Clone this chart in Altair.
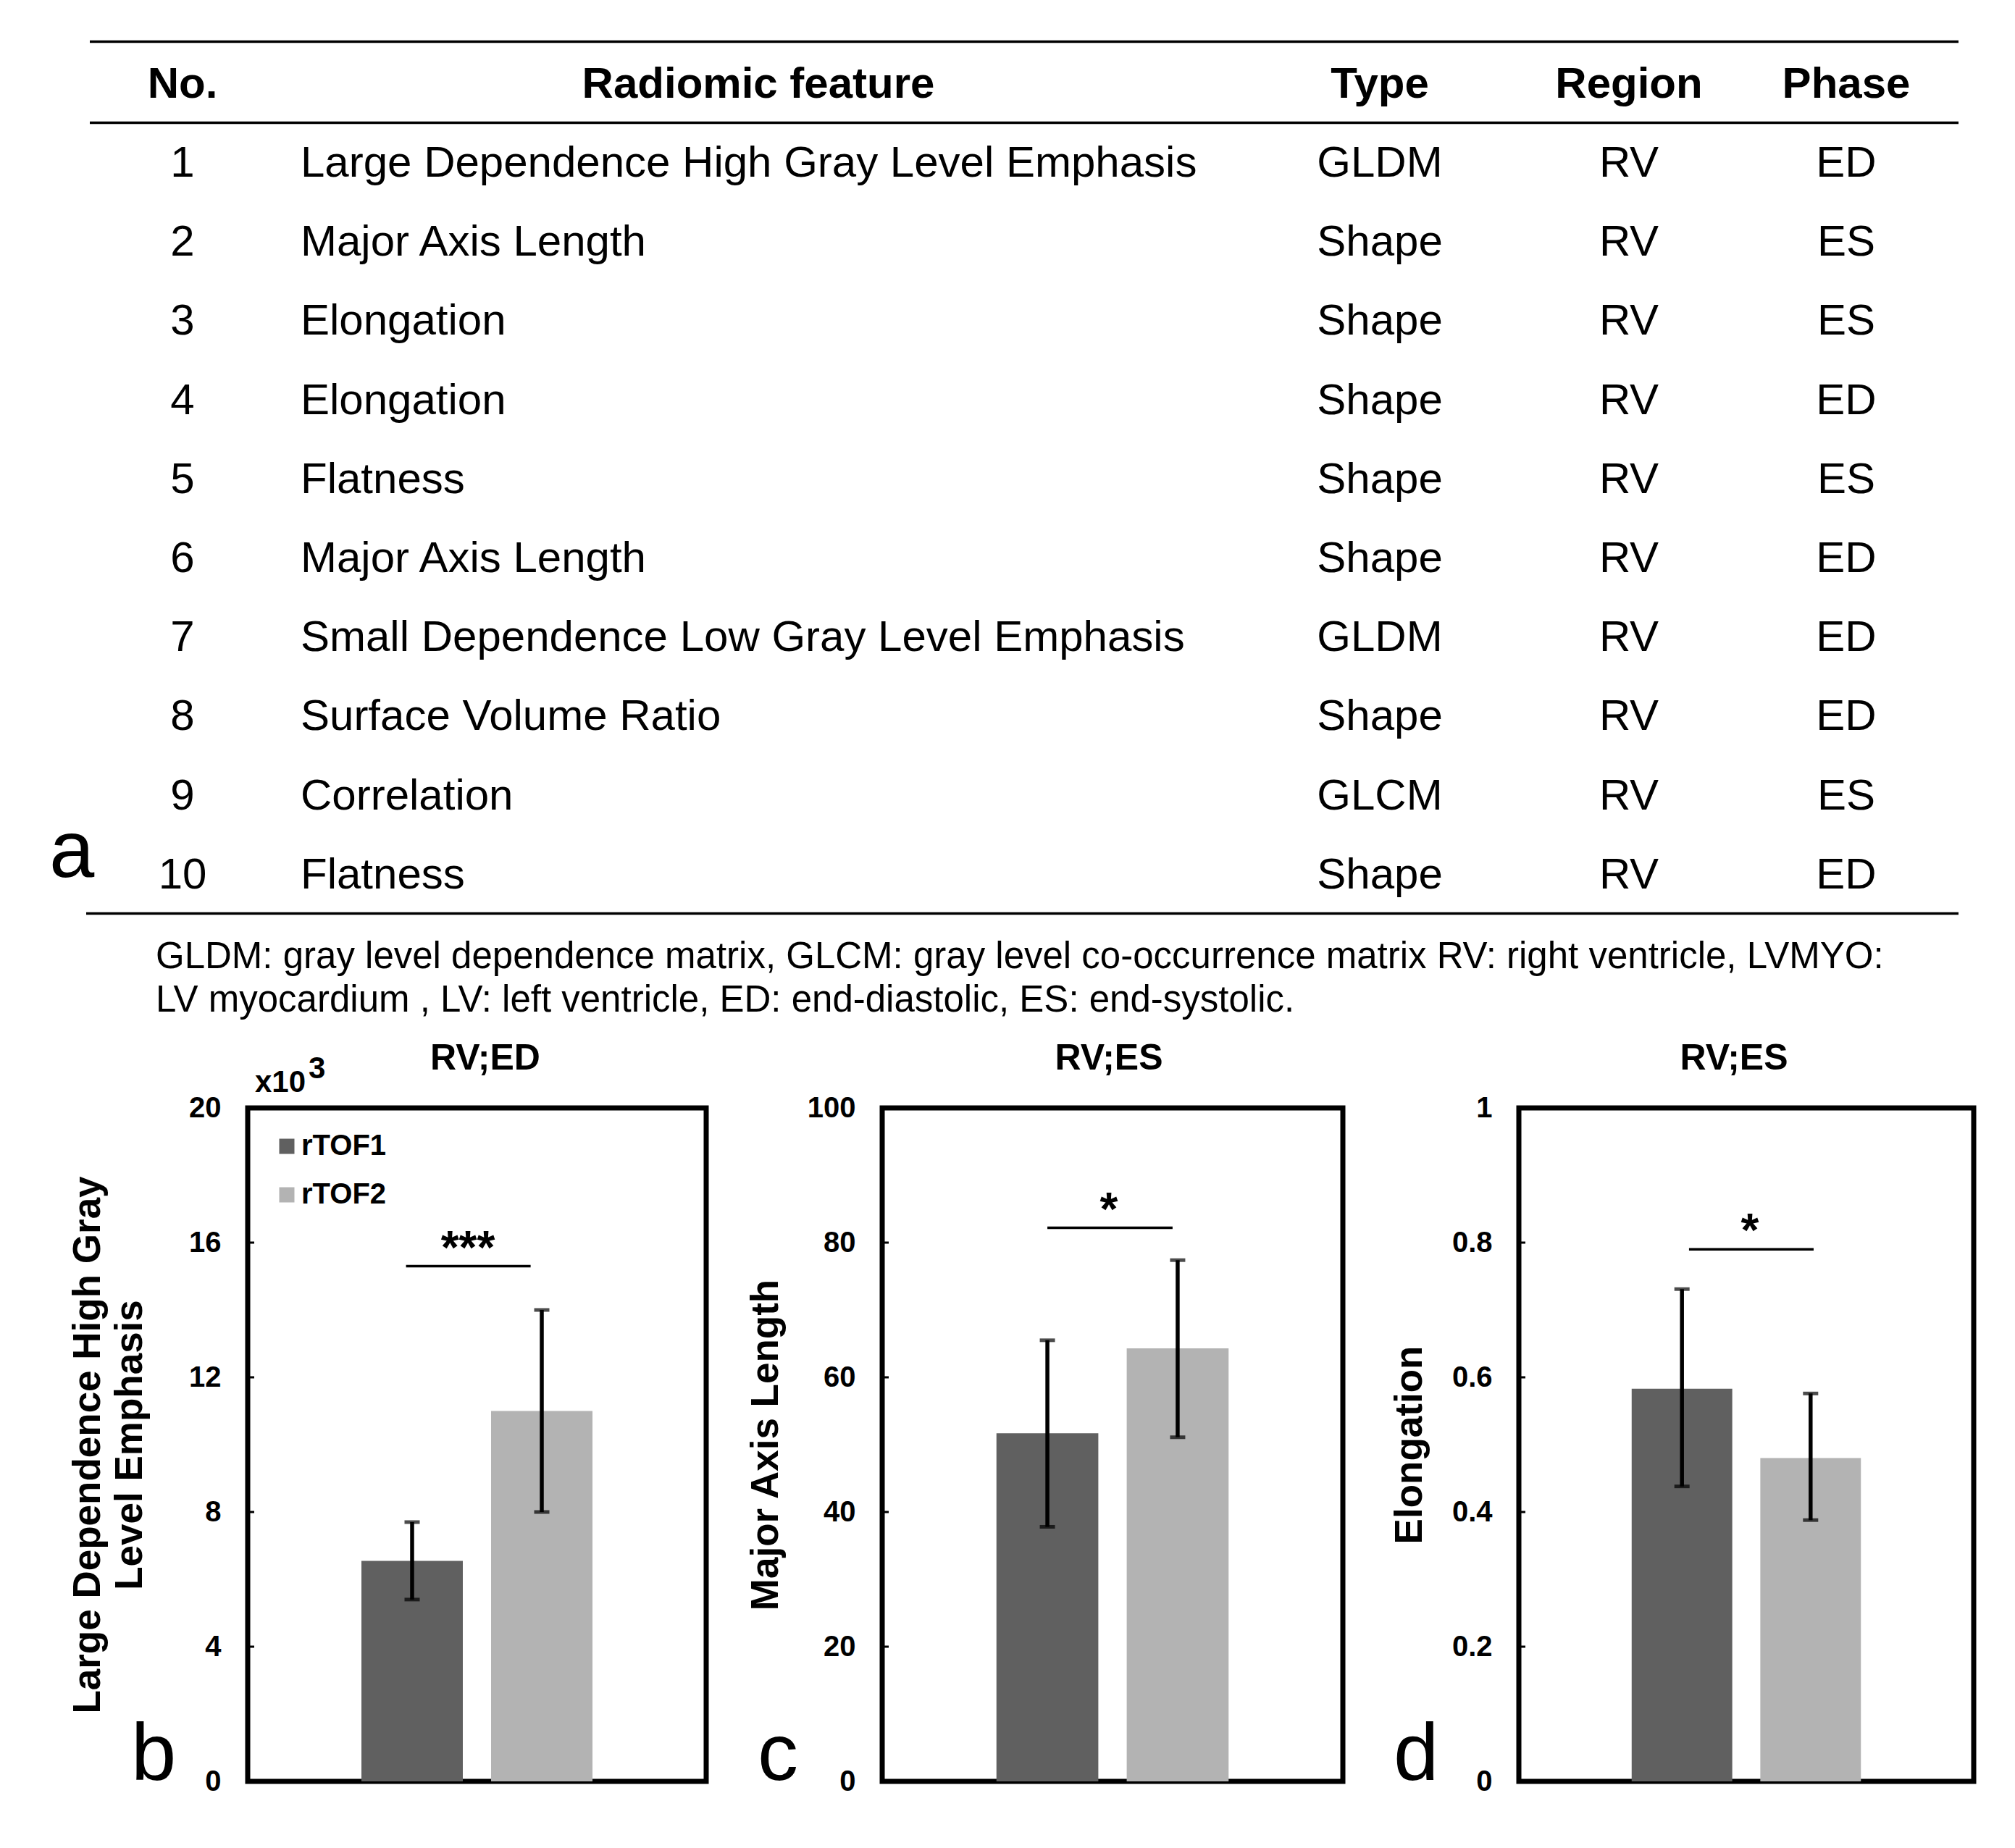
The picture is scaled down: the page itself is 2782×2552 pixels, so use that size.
import altair as alt
import pandas as pd

# ---------------- data ----------------
row_no = [1, 2, 3, 4, 5, 6, 7, 8, 9, 10]
features = [
    "Large Dependence High Gray Level Emphasis",
    "Major Axis Length",
    "Elongation",
    "Elongation",
    "Flatness",
    "Major Axis Length",
    "Small Dependence Low Gray Level Emphasis",
    "Surface Volume Ratio",
    "Correlation",
    "Flatness",
]
ftypes = ["GLDM", "Shape", "Shape", "Shape", "Shape", "Shape", "GLDM", "Shape", "GLCM", "Shape"]
regions = ["RV"] * 10
phases = ["ED", "ES", "ES", "ED", "ES", "ED", "ED", "ED", "ES", "ED"]
headers = ["No.", "Radiomic feature", "Type", "Region", "Phase"]
footnote = [
    "GLDM: gray level dependence matrix, GLCM: gray level co-occurrence matrix RV: right ventricle, LVMYO:",
    "LV myocardium , LV: left ventricle, ED: end-diastolic, ES: end-systolic.",
]

groups = ["rTOF1", "rTOF2"]
b_mean = [6.55, 11.0]
b_low = [5.4, 8.0]
b_high = [7.7, 14.0]
c_mean = [51.7, 64.3]
c_low = [37.8, 51.1]
c_high = [65.5, 77.4]
d_mean = [0.583, 0.480]
d_low = [0.438, 0.388]
d_high = [0.731, 0.576]
sig_values = [15.3, 82.2, 0.79]
sig_stars = ["***", "*", "*"]
panel_titles = ["RV;ED", "RV;ES", "RV;ES"]
y_titles = [["Large Dependence High Gray", "Level Emphasis"], "Major Axis Length", "Elongation"]
y_domains = [[0, 20], [0, 100], [0, 1]]
y_ticks = [[0, 4, 8, 12, 16, 20], [0, 20, 40, 60, 80, 100], [0, 0.2, 0.4, 0.6, 0.8, 1]]
panel_letters = ["b", "c", "d"]

means = [b_mean, c_mean, d_mean]
lows = [b_low, c_low, d_low]
highs = [b_high, c_high, d_high]

# ---------------- layout / style (pixels relative to panel b's plot origin) ----------------
FONT = "Liberation Sans"
BAR_COLORS = ["#606060", "#b3b3b3"]
P_W = [633, 636, 628]
P_H = 930
TITLE_X = [328, 313, 297]
YTITLE_X = [-221, -161, -151]
LETTER_X = [-161, -172, -173]
STAR_X = [304, 313, 319]
SIG_BAND = [(0.44, 0.39), (0.5, 0.45), (0.57, 0.53)]
ROW_RANGE = [-1468, -266.5]
TBL_TOP, TBL_HEAD_RULE, TBL_BOTTOM = -1472.5, -1360.4, -268.5
TBL_LEFT, TBL_RIGHT = -218, 2362
ANCHOR = (-330, -1518)

one = pd.DataFrame({"k": [0]})


def table_layers():
    tbl = pd.DataFrame({
        "row": row_no,
        "no": [str(n) for n in row_no],
        "feature": features,
        "type": ftypes,
        "region": regions,
        "phase": phases,
    })
    hdr = pd.DataFrame({"row": [0], "no": [headers[0]], "feature": [headers[1]],
                        "type": [headers[2]], "region": [headers[3]], "phase": [headers[4]]})
    yrow = alt.Y("row:O", axis=None,
                 scale=alt.Scale(type="point", domain=list(range(11)), padding=0.5,
                                 range=ROW_RANGE))
    body_cols = [("no", -90, "center"), ("feature", 73, "left"), ("type", 1563, "center"),
                 ("region", 1907, "center"), ("phase", 2207, "center")]
    head_cols = [("no", -90), ("feature", 705), ("type", 1563), ("region", 1907), ("phase", 2207)]
    out = []
    for col, xp, al in body_cols:
        out.append(
            alt.Chart(tbl).mark_text(align=al, baseline="middle", fontSize=60, color="black")
            .encode(x=alt.value(xp), y=yrow, text=f"{col}:N")
        )
    for col, xp in head_cols:
        out.append(
            alt.Chart(hdr).mark_text(align="center", baseline="middle", fontSize=60,
                                     fontWeight="bold", color="black")
            .encode(x=alt.value(xp), y=yrow, text=f"{col}:N")
        )
    for y0, x0 in [(TBL_TOP, TBL_LEFT), (TBL_HEAD_RULE, TBL_LEFT), (TBL_BOTTOM, TBL_LEFT - 5)]:
        out.append(
            alt.Chart(one).mark_rule(color="black", strokeWidth=3.5)
            .encode(x=alt.value(x0), x2=alt.value(TBL_RIGHT), y=alt.value(y0))
        )
    out.append(
        alt.Chart(one).mark_text(text="a", fontSize=112, align="left", baseline="alphabetic",
                                 color="black")
        .encode(x=alt.value(-274), y=alt.value(-319))
    )
    for k, yb in enumerate([-193, -133]):
        out.append(
            alt.Chart(pd.DataFrame({"t": [footnote[k]]}))
            .mark_text(fontSize=51, align="left", baseline="alphabetic", color="black")
            .encode(x=alt.value(-127), y=alt.value(yb), text="t:N")
        )
    # invisible anchor fixing the top-left corner of the whole figure
    out.append(
        alt.Chart(one).mark_rule(opacity=0, strokeOpacity=0)
        .encode(x=alt.value(ANCHOR[0]), x2=alt.value(ANCHOR[0] + 1),
                y=alt.value(ANCHOR[1]), y2=alt.value(ANCHOR[1]))
    )
    return out


def panel(i):
    W = P_W[i]
    df = pd.DataFrame({"group": groups, "mean": means[i], "low": lows[i], "high": highs[i]})
    ysc = alt.Scale(domain=y_domains[i], nice=False, zero=True)
    xsc = alt.Scale(domain=groups, paddingInner=0.218, paddingOuter=0.877)
    xenc = alt.X("group:N", scale=xsc, axis=None)
    yaxis = alt.Axis(
        values=y_ticks[i], format=".1~f", labelFontSize=40, labelFontWeight="bold",
        labelColor="black", labelPadding=37, ticks=False, tickSize=0, domain=False,
        grid=False, title=y_titles[i], titleFontSize=53, titleFontWeight="bold",
        titleColor="black", titleAngle=270, titleX=YTITLE_X[i], titleY=P_H / 2,
        titleAlign="center", titleBaseline="middle", titleLineHeight=58,
    )
    if i == 0:
        legend = alt.Legend(
            orient="none", legendX=34, legendY=33, title=None, symbolType="square",
            symbolSize=441, symbolStrokeWidth=0, labelFontSize=40, labelFontWeight="bold",
            labelColor="black", labelOffset=0, rowPadding=27, padding=0,
        )
    else:
        legend = None
    base = alt.Chart(df)
    bars = base.mark_bar().encode(
        x=xenc,
        y=alt.Y("mean:Q", scale=ysc, axis=yaxis),
        color=alt.Color("group:N", scale=alt.Scale(domain=groups, range=BAR_COLORS), legend=legend),
    )
    err = base.mark_rule(color="black", strokeWidth=5.5).encode(
        x=xenc, y=alt.Y("low:Q", scale=ysc, axis=yaxis), y2="high:Q")
    cap_lo = base.mark_tick(color="black", size=21, thickness=5, orient="horizontal").encode(
        x=xenc, y=alt.Y("low:Q", scale=ysc, axis=yaxis))
    cap_hi = base.mark_tick(color="black", size=21, thickness=5, orient="horizontal").encode(
        x=xenc, y=alt.Y("high:Q", scale=ysc, axis=yaxis))
    tks = alt.Chart(pd.DataFrame({"t": y_ticks[i]})).mark_rule(color="black", strokeWidth=3).encode(
        x=alt.value(0), x2=alt.value(9), y=alt.Y("t:Q", scale=ysc, axis=yaxis))
    sdf = pd.DataFrame({"s": [sig_values[i]], "star": [sig_stars[i]]})
    sig = alt.Chart(sdf).mark_rule(color="black", strokeWidth=3.5).encode(
        x=alt.X(datum=groups[0], type="nominal", scale=xsc, axis=None, bandPosition=SIG_BAND[i][0]),
        x2=alt.X2(datum=groups[1], bandPosition=SIG_BAND[i][1]),
        y=alt.Y("s:Q", scale=ysc, axis=yaxis),
    )
    star = alt.Chart(sdf).mark_text(fontSize=64, fontWeight="bold", baseline="alphabetic",
                                    align="center", dy=-4, color="black").encode(
        x=alt.value(STAR_X[i]), y=alt.Y("s:Q", scale=ysc, axis=yaxis), text="star:N")
    inner = alt.layer(bars, err, cap_lo, cap_hi, tks, sig, star)

    ttl = alt.Chart(pd.DataFrame({"t": [panel_titles[i]]})).mark_text(
        fontSize=50, fontWeight="bold", align="center", baseline="alphabetic", color="black"
    ).encode(x=alt.value(TITLE_X[i]), y=alt.value(-53), text="t:N")
    letter = alt.Chart(pd.DataFrame({"t": [panel_letters[i]]})).mark_text(
        fontSize=112, align="left", baseline="alphabetic", color="black"
    ).encode(x=alt.value(LETTER_X[i]), y=alt.value(928), text="t:N")
    extras = [ttl, letter]
    if i == 0:
        extras.append(alt.Chart(one).mark_text(text="x10", fontSize=42, fontWeight="bold",
                                               align="left", baseline="alphabetic", color="black")
                      .encode(x=alt.value(10), y=alt.value(-22)))
        extras.append(alt.Chart(one).mark_text(text="3", fontSize=42, fontWeight="bold",
                                               align="left", baseline="alphabetic", color="black")
                      .encode(x=alt.value(84), y=alt.value(-41)))
        extras.extend(table_layers())
    return alt.layer(inner, *extras).resolve_scale(y="independent").properties(
        width=W, height=P_H,
        view=alt.ViewBackground(stroke="black", strokeWidth=7),
    )


chart = (
    alt.hconcat(panel(0), panel(1), panel(2), spacing=243, bounds="flush")
    .resolve_scale(color="independent")
    .properties(padding=0)
    .configure(font=FONT)
    .configure_view(stroke="transparent")
)

chart.save("out.html", embed_options={"renderer": "svg", "actions": False})
